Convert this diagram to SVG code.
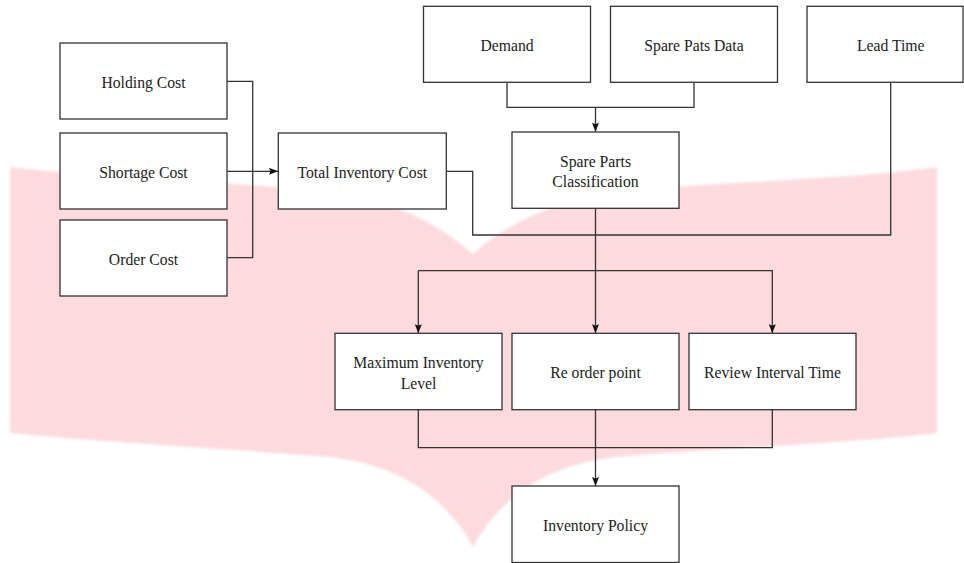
<svg xmlns="http://www.w3.org/2000/svg" width="964" height="563" viewBox="0 0 964 563">
<defs>
<style>
.box{fill:#ffffff;stroke:#333333;stroke-width:1.3}
.lbl{font-family:"Liberation Serif","Times New Roman","DejaVu Serif",serif;font-size:15.7px;fill:#222222;text-anchor:middle}
.con{fill:none;stroke:#333333;stroke-width:1.3}
</style>
<marker id="arr" markerUnits="userSpaceOnUse" markerWidth="10" markerHeight="8" refX="9" refY="3.5" orient="auto">
<path d="M0,0 L9,3.5 L0,7 L1.5,3.5 Z" fill="#111111"/>
</marker>
<filter id="soft" x="-5%" y="-5%" width="110%" height="110%">
<feGaussianBlur stdDeviation="1.5"/>
</filter>
</defs>
<rect width="964" height="563" fill="#ffffff"/>
<path id="watermark" filter="url(#soft)" fill="#fcdadd" d="M10,167 C60,174 200,180 340,192 Q420,207 473,254 Q525,207 610,193 C700,182 850,180 937,167 L937,433 C870,442 720,448 616,457 Q516,468 473,547 Q430,468 330,457 C220,448 100,442 10,433 Z"/>
<g id="connectors">
<path class="con" d="M227,81.3 H252.7 V257.7 H227"/>
<path class="con" d="M227,171.3 H278" marker-end="url(#arr)"/>
<path class="con" d="M507,82.3 V107.3 H694 V82.3"/>
<path class="con" d="M595.5,107.3 V131.7" marker-end="url(#arr)"/>
<path class="con" d="M446.3,171.3 H472.7 V235 H890.7 V82.3"/>
<path class="con" d="M595.5,208.3 V333.3" marker-end="url(#arr)"/>
<path class="con" d="M418.3,270.7 H772.3 V333.3" marker-end="url(#arr)"/>
<path class="con" d="M418.3,270.7 V333.3" marker-end="url(#arr)"/>
<path class="con" d="M418.3,409.7 V447.7 H772.3 V409.7"/>
<path class="con" d="M595.5,409.7 V486" marker-end="url(#arr)"/>
</g>
<g id="holding-cost"><rect class="box" x="60" y="43" width="167" height="76"/><text class="lbl" x="143.5" y="87.5">Holding Cost</text></g>
<g id="shortage-cost"><rect class="box" x="60" y="133" width="167" height="76"/><text class="lbl" x="143.5" y="177.5">Shortage Cost</text></g>
<g id="order-cost"><rect class="box" x="60" y="220" width="167" height="76"/><text class="lbl" x="143.5" y="264.5">Order Cost</text></g>
<g id="total-inventory-cost"><rect class="box" x="278.3" y="133" width="168" height="76"/><text class="lbl" x="362.3" y="177.5">Total Inventory Cost</text></g>
<g id="demand"><rect class="box" x="423.5" y="6.3" width="167" height="76"/><text class="lbl" x="507" y="50.8">Demand</text></g>
<g id="spare-pats-data"><rect class="box" x="610.5" y="6.3" width="167" height="76"/><text class="lbl" x="694" y="50.8">Spare Pats Data</text></g>
<g id="lead-time"><rect class="box" x="807" y="6.3" width="156" height="76"/><text class="lbl" x="890.7" y="50.8">Lead Time</text></g>
<g id="spare-parts-classification"><rect class="box" x="512" y="132" width="167" height="76.3"/><text class="lbl" x="595.5" y="166.5">Spare Parts</text><text class="lbl" x="595.5" y="187">Classification</text></g>
<g id="maximum-inventory-level"><rect class="box" x="335" y="333.3" width="167" height="76.4"/><text class="lbl" x="418.5" y="367.8">Maximum Inventory</text><text class="lbl" x="418.5" y="388.5">Level</text></g>
<g id="re-order-point"><rect class="box" x="512" y="333.3" width="167" height="76.4"/><text class="lbl" x="595.5" y="378">Re order point</text></g>
<g id="review-interval-time"><rect class="box" x="689" y="333.3" width="167" height="76.4"/><text class="lbl" x="772.5" y="378">Review Interval Time</text></g>
<g id="inventory-policy"><rect class="box" x="512" y="486" width="167" height="76.5"/><text class="lbl" x="595.5" y="530.5">Inventory Policy</text></g>
</svg>
